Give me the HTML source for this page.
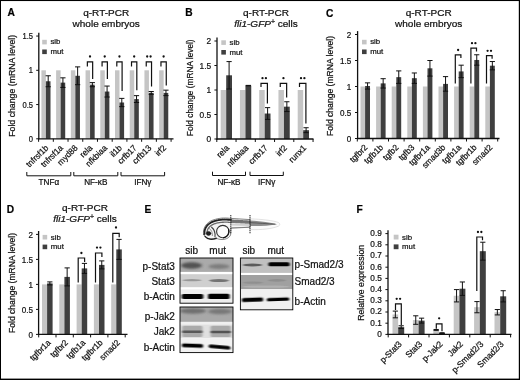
<!DOCTYPE html>
<html lang="en"><head><meta charset="utf-8"><title>Figure</title>
<style>
html,body{margin:0;padding:0;background:#fff;}
body{width:520px;height:380px;overflow:hidden;}
svg{display:block;font-family:"Liberation Sans",sans-serif;}
text{stroke:#111;stroke-width:0.22px;}
</style></head><body>
<svg width="520" height="380" viewBox="0 0 520 380">
<rect x="0" y="0" width="520" height="380" fill="#fff"/>
<text x="7.40" y="16.20" font-size="10.2" text-anchor="start" font-weight="bold" font-style="normal" fill="#000">A</text>
<text x="0" y="0" transform="translate(106.20 15.60) scale(1.065 1)" font-size="9.4" text-anchor="middle" font-weight="normal" font-style="normal" fill="#111">q-RT-PCR</text>
<text x="0" y="0" transform="translate(106.20 27.20) scale(1.065 1)" font-size="9.4" text-anchor="middle" font-weight="normal" font-style="normal" fill="#111">whole embryos</text>
<rect x="41.40" y="70.30" width="4.50" height="68.50" fill="#c5c5c5"/>
<rect x="45.90" y="81.26" width="4.60" height="57.54" fill="#3f3f3f"/>
<line x1="48.20" y1="75.78" x2="48.20" y2="86.74" stroke="#111" stroke-width="1.0"/>
<line x1="45.60" y1="75.78" x2="50.80" y2="75.78" stroke="#111" stroke-width="1.0"/>
<line x1="45.60" y1="86.74" x2="50.80" y2="86.74" stroke="#111" stroke-width="1.0"/>
<rect x="56.12" y="70.30" width="4.50" height="68.50" fill="#c5c5c5"/>
<rect x="60.62" y="82.63" width="4.60" height="56.17" fill="#3f3f3f"/>
<line x1="62.92" y1="77.84" x2="62.92" y2="87.43" stroke="#111" stroke-width="1.0"/>
<line x1="60.32" y1="77.84" x2="65.52" y2="77.84" stroke="#111" stroke-width="1.0"/>
<line x1="60.32" y1="87.43" x2="65.52" y2="87.43" stroke="#111" stroke-width="1.0"/>
<rect x="70.84" y="70.30" width="4.50" height="68.50" fill="#c5c5c5"/>
<rect x="75.34" y="75.78" width="4.60" height="63.02" fill="#3f3f3f"/>
<line x1="77.64" y1="66.88" x2="77.64" y2="84.69" stroke="#111" stroke-width="1.0"/>
<line x1="75.04" y1="66.88" x2="80.24" y2="66.88" stroke="#111" stroke-width="1.0"/>
<line x1="75.04" y1="84.69" x2="80.24" y2="84.69" stroke="#111" stroke-width="1.0"/>
<rect x="85.56" y="70.30" width="4.50" height="68.50" fill="#c5c5c5"/>
<rect x="90.06" y="84.69" width="4.60" height="54.12" fill="#3f3f3f"/>
<line x1="92.36" y1="82.63" x2="92.36" y2="86.74" stroke="#111" stroke-width="1.0"/>
<line x1="89.76" y1="82.63" x2="94.96" y2="82.63" stroke="#111" stroke-width="1.0"/>
<line x1="89.76" y1="86.74" x2="94.96" y2="86.74" stroke="#111" stroke-width="1.0"/>
<rect x="100.28" y="70.30" width="4.50" height="68.50" fill="#c5c5c5"/>
<rect x="104.78" y="91.54" width="4.60" height="47.26" fill="#3f3f3f"/>
<line x1="107.08" y1="86.06" x2="107.08" y2="97.02" stroke="#111" stroke-width="1.0"/>
<line x1="104.48" y1="86.06" x2="109.68" y2="86.06" stroke="#111" stroke-width="1.0"/>
<line x1="104.48" y1="97.02" x2="109.68" y2="97.02" stroke="#111" stroke-width="1.0"/>
<rect x="115.00" y="70.30" width="4.50" height="68.50" fill="#c5c5c5"/>
<rect x="119.50" y="102.50" width="4.60" height="36.30" fill="#3f3f3f"/>
<line x1="121.80" y1="98.39" x2="121.80" y2="106.61" stroke="#111" stroke-width="1.0"/>
<line x1="119.20" y1="98.39" x2="124.40" y2="98.39" stroke="#111" stroke-width="1.0"/>
<line x1="119.20" y1="106.61" x2="124.40" y2="106.61" stroke="#111" stroke-width="1.0"/>
<rect x="129.72" y="70.30" width="4.50" height="68.50" fill="#c5c5c5"/>
<rect x="134.22" y="99.07" width="4.60" height="39.73" fill="#3f3f3f"/>
<line x1="136.52" y1="95.65" x2="136.52" y2="102.50" stroke="#111" stroke-width="1.0"/>
<line x1="133.92" y1="95.65" x2="139.12" y2="95.65" stroke="#111" stroke-width="1.0"/>
<line x1="133.92" y1="102.50" x2="139.12" y2="102.50" stroke="#111" stroke-width="1.0"/>
<rect x="144.44" y="70.30" width="4.50" height="68.50" fill="#c5c5c5"/>
<rect x="148.94" y="92.91" width="4.60" height="45.90" fill="#3f3f3f"/>
<line x1="151.24" y1="91.53" x2="151.24" y2="94.28" stroke="#111" stroke-width="1.0"/>
<line x1="148.64" y1="91.53" x2="153.84" y2="91.53" stroke="#111" stroke-width="1.0"/>
<line x1="148.64" y1="94.28" x2="153.84" y2="94.28" stroke="#111" stroke-width="1.0"/>
<rect x="159.16" y="70.30" width="4.50" height="68.50" fill="#c5c5c5"/>
<rect x="163.66" y="92.91" width="4.60" height="45.90" fill="#3f3f3f"/>
<line x1="165.96" y1="90.17" x2="165.96" y2="95.64" stroke="#111" stroke-width="1.0"/>
<line x1="163.36" y1="90.17" x2="168.56" y2="90.17" stroke="#111" stroke-width="1.0"/>
<line x1="163.36" y1="95.64" x2="168.56" y2="95.64" stroke="#111" stroke-width="1.0"/>
<line x1="38.80" y1="32.65" x2="38.80" y2="139.30" stroke="#111" stroke-width="1.3"/>
<line x1="38.30" y1="138.80" x2="173.50" y2="138.80" stroke="#111" stroke-width="1.3"/>
<line x1="36.20" y1="138.80" x2="38.80" y2="138.80" stroke="#111" stroke-width="1"/>
<text x="0" y="0" transform="translate(33.00 141.90) scale(0.9 1)" font-size="8.4" text-anchor="end" font-weight="normal" font-style="normal" fill="#111">0</text>
<line x1="36.20" y1="104.55" x2="38.80" y2="104.55" stroke="#111" stroke-width="1"/>
<text x="0" y="0" transform="translate(33.00 107.65) scale(0.9 1)" font-size="8.4" text-anchor="end" font-weight="normal" font-style="normal" fill="#111">0.5</text>
<line x1="36.20" y1="70.30" x2="38.80" y2="70.30" stroke="#111" stroke-width="1"/>
<text x="0" y="0" transform="translate(33.00 73.40) scale(0.9 1)" font-size="8.4" text-anchor="end" font-weight="normal" font-style="normal" fill="#111">1</text>
<line x1="36.20" y1="36.05" x2="38.80" y2="36.05" stroke="#111" stroke-width="1"/>
<text x="0" y="0" transform="translate(33.00 39.15) scale(0.9 1)" font-size="8.4" text-anchor="end" font-weight="normal" font-style="normal" fill="#111">1.5</text>
<line x1="38.60" y1="138.80" x2="38.60" y2="141.80" stroke="#111" stroke-width="1"/>
<line x1="53.32" y1="138.80" x2="53.32" y2="141.80" stroke="#111" stroke-width="1"/>
<line x1="68.04" y1="138.80" x2="68.04" y2="141.80" stroke="#111" stroke-width="1"/>
<line x1="82.76" y1="138.80" x2="82.76" y2="141.80" stroke="#111" stroke-width="1"/>
<line x1="97.48" y1="138.80" x2="97.48" y2="141.80" stroke="#111" stroke-width="1"/>
<line x1="112.20" y1="138.80" x2="112.20" y2="141.80" stroke="#111" stroke-width="1"/>
<line x1="126.92" y1="138.80" x2="126.92" y2="141.80" stroke="#111" stroke-width="1"/>
<line x1="141.64" y1="138.80" x2="141.64" y2="141.80" stroke="#111" stroke-width="1"/>
<line x1="156.36" y1="138.80" x2="156.36" y2="141.80" stroke="#111" stroke-width="1"/>
<line x1="171.08" y1="138.80" x2="171.08" y2="141.80" stroke="#111" stroke-width="1"/>
<text x="0" y="0" transform="translate(48.90 148.40) rotate(-45) scale(0.96 1)" font-size="8.6" text-anchor="end" font-weight="normal" font-style="normal" fill="#111">tnfrsf1b</text>
<text x="0" y="0" transform="translate(63.62 148.40) rotate(-45) scale(0.96 1)" font-size="8.6" text-anchor="end" font-weight="normal" font-style="normal" fill="#111">tnfrsf1a</text>
<text x="0" y="0" transform="translate(78.34 148.40) rotate(-45) scale(0.96 1)" font-size="8.6" text-anchor="end" font-weight="normal" font-style="normal" fill="#111">myd88</text>
<text x="0" y="0" transform="translate(93.06 148.40) rotate(-45) scale(0.96 1)" font-size="8.6" text-anchor="end" font-weight="normal" font-style="normal" fill="#111">rela</text>
<text x="0" y="0" transform="translate(107.78 148.40) rotate(-45) scale(0.96 1)" font-size="8.6" text-anchor="end" font-weight="normal" font-style="normal" fill="#111">nfkbiaa</text>
<text x="0" y="0" transform="translate(122.50 148.40) rotate(-45) scale(0.96 1)" font-size="8.6" text-anchor="end" font-weight="normal" font-style="normal" fill="#111">il1b</text>
<text x="0" y="0" transform="translate(137.22 148.40) rotate(-45) scale(0.96 1)" font-size="8.6" text-anchor="end" font-weight="normal" font-style="normal" fill="#111">crfb17</text>
<text x="0" y="0" transform="translate(151.94 148.40) rotate(-45) scale(0.96 1)" font-size="8.6" text-anchor="end" font-weight="normal" font-style="normal" fill="#111">crfb13</text>
<text x="0" y="0" transform="translate(166.66 148.40) rotate(-45) scale(0.96 1)" font-size="8.6" text-anchor="end" font-weight="normal" font-style="normal" fill="#111">irf2</text>
<rect x="42.20" y="39.80" width="4.60" height="4.60" fill="#c5c5c5"/>
<rect x="42.20" y="49.50" width="4.60" height="4.60" fill="#3f3f3f"/>
<text x="50.40" y="44.40" font-size="7.8" text-anchor="start" font-weight="normal" font-style="normal" fill="#111">sib</text>
<text x="50.40" y="54.20" font-size="7.8" text-anchor="start" font-weight="normal" font-style="normal" fill="#111">mut</text>
<text transform="translate(15.30 85.80) rotate(-90)" font-size="8.3" text-anchor="middle" textLength="102" lengthAdjust="spacingAndGlyphs" fill="#111">Fold change (mRNA level)</text>
<polyline points="87.36,66.40 87.36,61.80 92.66,61.80 92.66,79.10" fill="none" stroke="#111" stroke-width="1.2"/>
<circle cx="90.01" cy="56.50" r="1.15" fill="#111"/>
<polyline points="102.08,66.40 102.08,61.80 107.38,61.80 107.38,79.10" fill="none" stroke="#111" stroke-width="1.2"/>
<circle cx="104.73" cy="56.50" r="1.15" fill="#111"/>
<polyline points="116.80,66.40 116.80,61.80 122.10,61.80 122.10,91.10" fill="none" stroke="#111" stroke-width="1.2"/>
<circle cx="119.45" cy="56.50" r="1.15" fill="#111"/>
<polyline points="131.52,66.40 131.52,61.80 136.82,61.80 136.82,90.20" fill="none" stroke="#111" stroke-width="1.2"/>
<circle cx="134.17" cy="56.50" r="1.15" fill="#111"/>
<polyline points="146.24,66.40 146.24,61.80 151.54,61.80 151.54,86.50" fill="none" stroke="#111" stroke-width="1.2"/>
<circle cx="147.19" cy="56.50" r="1.15" fill="#111"/>
<circle cx="150.59" cy="56.50" r="1.15" fill="#111"/>
<polyline points="160.96,66.40 160.96,61.80 166.26,61.80 166.26,85.60" fill="none" stroke="#111" stroke-width="1.2"/>
<circle cx="163.61" cy="56.50" r="1.15" fill="#111"/>
<polyline points="26.80,172.00 26.80,175.80 70.80,175.80 70.80,172.00" fill="none" stroke="#111" stroke-width="1"/>
<text x="48.80" y="184.80" font-size="8.2" text-anchor="middle" font-weight="normal" font-style="normal" fill="#111">TNFα</text>
<polyline points="73.80,172.00 73.80,175.80 117.80,175.80 117.80,172.00" fill="none" stroke="#111" stroke-width="1"/>
<text x="95.80" y="184.80" font-size="8.2" text-anchor="middle" font-weight="normal" font-style="normal" fill="#111">NF-κB</text>
<polyline points="121.00,172.00 121.00,175.80 164.60,175.80 164.60,172.00" fill="none" stroke="#111" stroke-width="1"/>
<text x="142.80" y="184.80" font-size="8.2" text-anchor="middle" font-weight="normal" font-style="normal" fill="#111">IFNγ</text>
<text x="185.30" y="16.20" font-size="10.2" text-anchor="start" font-weight="bold" font-style="normal" fill="#000">B</text>
<text x="0" y="0" transform="translate(266.00 15.60) scale(1.065 1)" font-size="9.4" text-anchor="middle" font-weight="normal" font-style="normal" fill="#111">q-RT-PCR</text>
<text x="0" y="0" transform="translate(266.00 27.20) scale(1.065 1)" font-size="9.4" text-anchor="middle" font-weight="normal" font-style="normal" fill="#111"><tspan font-style="italic">fli1-GFP</tspan><tspan font-size="6.5" dy="-3">+</tspan><tspan dy="3"> cells</tspan></text>
<rect x="220.70" y="90.00" width="5.50" height="49.00" fill="#c5c5c5"/>
<rect x="226.20" y="75.30" width="5.80" height="63.70" fill="#3f3f3f"/>
<line x1="229.10" y1="61.58" x2="229.10" y2="89.02" stroke="#111" stroke-width="1.0"/>
<line x1="226.50" y1="61.58" x2="231.70" y2="61.58" stroke="#111" stroke-width="1.0"/>
<line x1="226.50" y1="89.02" x2="231.70" y2="89.02" stroke="#111" stroke-width="1.0"/>
<rect x="239.95" y="90.00" width="5.50" height="49.00" fill="#c5c5c5"/>
<rect x="245.45" y="85.59" width="5.80" height="53.41" fill="#3f3f3f"/>
<line x1="248.35" y1="85.39" x2="248.35" y2="85.79" stroke="#111" stroke-width="1.0"/>
<line x1="245.75" y1="85.39" x2="250.95" y2="85.39" stroke="#111" stroke-width="1.0"/>
<line x1="245.75" y1="85.79" x2="250.95" y2="85.79" stroke="#111" stroke-width="1.0"/>
<rect x="259.20" y="90.00" width="5.50" height="49.00" fill="#c5c5c5"/>
<rect x="264.70" y="113.52" width="5.80" height="25.48" fill="#3f3f3f"/>
<line x1="267.60" y1="107.64" x2="267.60" y2="119.40" stroke="#111" stroke-width="1.0"/>
<line x1="265.00" y1="107.64" x2="270.20" y2="107.64" stroke="#111" stroke-width="1.0"/>
<line x1="265.00" y1="119.40" x2="270.20" y2="119.40" stroke="#111" stroke-width="1.0"/>
<rect x="278.45" y="90.00" width="5.50" height="49.00" fill="#c5c5c5"/>
<rect x="283.95" y="106.66" width="5.80" height="32.34" fill="#3f3f3f"/>
<line x1="286.85" y1="101.76" x2="286.85" y2="111.56" stroke="#111" stroke-width="1.0"/>
<line x1="284.25" y1="101.76" x2="289.45" y2="101.76" stroke="#111" stroke-width="1.0"/>
<line x1="284.25" y1="111.56" x2="289.45" y2="111.56" stroke="#111" stroke-width="1.0"/>
<rect x="297.70" y="90.00" width="5.50" height="49.00" fill="#c5c5c5"/>
<rect x="303.20" y="130.18" width="5.80" height="8.82" fill="#3f3f3f"/>
<line x1="306.10" y1="127.73" x2="306.10" y2="132.63" stroke="#111" stroke-width="1.0"/>
<line x1="303.50" y1="127.73" x2="308.70" y2="127.73" stroke="#111" stroke-width="1.0"/>
<line x1="303.50" y1="132.63" x2="308.70" y2="132.63" stroke="#111" stroke-width="1.0"/>
<line x1="217.00" y1="37.60" x2="217.00" y2="139.50" stroke="#111" stroke-width="1.3"/>
<line x1="216.50" y1="139.00" x2="313.50" y2="139.00" stroke="#111" stroke-width="1.3"/>
<line x1="214.40" y1="139.00" x2="217.00" y2="139.00" stroke="#111" stroke-width="1"/>
<text x="0" y="0" transform="translate(211.20 142.10) scale(0.95 1)" font-size="8.8" text-anchor="end" font-weight="normal" font-style="normal" fill="#111">0</text>
<line x1="214.40" y1="114.50" x2="217.00" y2="114.50" stroke="#111" stroke-width="1"/>
<text x="0" y="0" transform="translate(211.20 117.60) scale(0.95 1)" font-size="8.8" text-anchor="end" font-weight="normal" font-style="normal" fill="#111">0.5</text>
<line x1="214.40" y1="90.00" x2="217.00" y2="90.00" stroke="#111" stroke-width="1"/>
<text x="0" y="0" transform="translate(211.20 93.10) scale(0.95 1)" font-size="8.8" text-anchor="end" font-weight="normal" font-style="normal" fill="#111">1</text>
<line x1="214.40" y1="65.50" x2="217.00" y2="65.50" stroke="#111" stroke-width="1"/>
<text x="0" y="0" transform="translate(211.20 68.60) scale(0.95 1)" font-size="8.8" text-anchor="end" font-weight="normal" font-style="normal" fill="#111">1.5</text>
<line x1="214.40" y1="41.00" x2="217.00" y2="41.00" stroke="#111" stroke-width="1"/>
<text x="0" y="0" transform="translate(211.20 44.10) scale(0.95 1)" font-size="8.8" text-anchor="end" font-weight="normal" font-style="normal" fill="#111">2</text>
<line x1="216.80" y1="139.00" x2="216.80" y2="142.00" stroke="#111" stroke-width="1"/>
<line x1="236.05" y1="139.00" x2="236.05" y2="142.00" stroke="#111" stroke-width="1"/>
<line x1="255.30" y1="139.00" x2="255.30" y2="142.00" stroke="#111" stroke-width="1"/>
<line x1="274.55" y1="139.00" x2="274.55" y2="142.00" stroke="#111" stroke-width="1"/>
<line x1="293.80" y1="139.00" x2="293.80" y2="142.00" stroke="#111" stroke-width="1"/>
<line x1="313.05" y1="139.00" x2="313.05" y2="142.00" stroke="#111" stroke-width="1"/>
<text x="0" y="0" transform="translate(229.80 148.60) rotate(-45) scale(0.96 1)" font-size="8.6" text-anchor="end" font-weight="normal" font-style="normal" fill="#111">rela</text>
<text x="0" y="0" transform="translate(249.05 148.60) rotate(-45) scale(0.96 1)" font-size="8.6" text-anchor="end" font-weight="normal" font-style="normal" fill="#111">nfkbiaa</text>
<text x="0" y="0" transform="translate(268.30 148.60) rotate(-45) scale(0.96 1)" font-size="8.6" text-anchor="end" font-weight="normal" font-style="normal" fill="#111">crfb17</text>
<text x="0" y="0" transform="translate(287.55 148.60) rotate(-45) scale(0.96 1)" font-size="8.6" text-anchor="end" font-weight="normal" font-style="normal" fill="#111">irf2</text>
<text x="0" y="0" transform="translate(306.80 148.60) rotate(-45) scale(0.96 1)" font-size="8.6" text-anchor="end" font-weight="normal" font-style="normal" fill="#111">runx1</text>
<rect x="221.30" y="40.30" width="4.60" height="4.60" fill="#c5c5c5"/>
<rect x="221.30" y="50.00" width="4.60" height="4.60" fill="#3f3f3f"/>
<text x="229.50" y="44.90" font-size="7.8" text-anchor="start" font-weight="normal" font-style="normal" fill="#111">sib</text>
<text x="229.50" y="54.70" font-size="7.8" text-anchor="start" font-weight="normal" font-style="normal" fill="#111">mut</text>
<text transform="translate(192.80 87.80) rotate(-90)" font-size="8.3" text-anchor="middle" textLength="96.8" lengthAdjust="spacingAndGlyphs" fill="#111">Fold change (mRNA level)</text>
<polyline points="261.00,87.00 261.00,83.30 267.40,83.30 267.40,103.44" fill="none" stroke="#111" stroke-width="1.2"/>
<circle cx="262.50" cy="78.20" r="1.15" fill="#111"/>
<circle cx="265.90" cy="78.20" r="1.15" fill="#111"/>
<polyline points="280.25,87.00 280.25,83.30 286.65,83.30 286.65,97.56" fill="none" stroke="#111" stroke-width="1.2"/>
<circle cx="283.45" cy="78.20" r="1.15" fill="#111"/>
<polyline points="299.50,87.00 299.50,83.30 305.90,83.30 305.90,123.53" fill="none" stroke="#111" stroke-width="1.2"/>
<circle cx="301.00" cy="78.20" r="1.15" fill="#111"/>
<circle cx="304.40" cy="78.20" r="1.15" fill="#111"/>
<polyline points="212.50,171.70 212.50,175.50 245.50,175.50 245.50,171.70" fill="none" stroke="#111" stroke-width="1"/>
<text x="229.00" y="184.50" font-size="8.2" text-anchor="middle" font-weight="normal" font-style="normal" fill="#111">NF-κB</text>
<polyline points="250.00,171.70 250.00,175.50 283.30,175.50 283.30,171.70" fill="none" stroke="#111" stroke-width="1"/>
<text x="266.65" y="184.50" font-size="8.2" text-anchor="middle" font-weight="normal" font-style="normal" fill="#111">IFNγ</text>
<text x="326.10" y="16.50" font-size="10.2" text-anchor="start" font-weight="bold" font-style="normal" fill="#000">C</text>
<text x="0" y="0" transform="translate(428.70 15.60) scale(1.065 1)" font-size="9.4" text-anchor="middle" font-weight="normal" font-style="normal" fill="#111">q-RT-PCR</text>
<text x="0" y="0" transform="translate(428.70 27.20) scale(1.065 1)" font-size="9.4" text-anchor="middle" font-weight="normal" font-style="normal" fill="#111">whole embryos</text>
<rect x="360.50" y="86.50" width="4.60" height="52.00" fill="#c5c5c5"/>
<rect x="365.10" y="85.98" width="4.90" height="52.52" fill="#3f3f3f"/>
<line x1="367.55" y1="82.86" x2="367.55" y2="89.10" stroke="#111" stroke-width="1.0"/>
<line x1="364.95" y1="82.86" x2="370.15" y2="82.86" stroke="#111" stroke-width="1.0"/>
<line x1="364.95" y1="89.10" x2="370.15" y2="89.10" stroke="#111" stroke-width="1.0"/>
<rect x="376.10" y="86.50" width="4.60" height="52.00" fill="#c5c5c5"/>
<rect x="380.70" y="83.38" width="4.90" height="55.12" fill="#3f3f3f"/>
<line x1="383.15" y1="78.70" x2="383.15" y2="88.06" stroke="#111" stroke-width="1.0"/>
<line x1="380.55" y1="78.70" x2="385.75" y2="78.70" stroke="#111" stroke-width="1.0"/>
<line x1="380.55" y1="88.06" x2="385.75" y2="88.06" stroke="#111" stroke-width="1.0"/>
<rect x="391.70" y="86.50" width="4.60" height="52.00" fill="#c5c5c5"/>
<rect x="396.30" y="77.14" width="4.90" height="61.36" fill="#3f3f3f"/>
<line x1="398.75" y1="70.90" x2="398.75" y2="83.38" stroke="#111" stroke-width="1.0"/>
<line x1="396.15" y1="70.90" x2="401.35" y2="70.90" stroke="#111" stroke-width="1.0"/>
<line x1="396.15" y1="83.38" x2="401.35" y2="83.38" stroke="#111" stroke-width="1.0"/>
<rect x="407.30" y="86.50" width="4.60" height="52.00" fill="#c5c5c5"/>
<rect x="411.90" y="78.18" width="4.90" height="60.32" fill="#3f3f3f"/>
<line x1="414.35" y1="72.98" x2="414.35" y2="83.38" stroke="#111" stroke-width="1.0"/>
<line x1="411.75" y1="72.98" x2="416.95" y2="72.98" stroke="#111" stroke-width="1.0"/>
<line x1="411.75" y1="83.38" x2="416.95" y2="83.38" stroke="#111" stroke-width="1.0"/>
<rect x="422.90" y="86.50" width="4.60" height="52.00" fill="#c5c5c5"/>
<rect x="427.50" y="68.30" width="4.90" height="70.20" fill="#3f3f3f"/>
<line x1="429.95" y1="60.50" x2="429.95" y2="76.10" stroke="#111" stroke-width="1.0"/>
<line x1="427.35" y1="60.50" x2="432.55" y2="60.50" stroke="#111" stroke-width="1.0"/>
<line x1="427.35" y1="76.10" x2="432.55" y2="76.10" stroke="#111" stroke-width="1.0"/>
<rect x="438.50" y="86.50" width="4.60" height="52.00" fill="#c5c5c5"/>
<rect x="443.10" y="83.90" width="4.90" height="54.60" fill="#3f3f3f"/>
<line x1="445.55" y1="76.62" x2="445.55" y2="91.18" stroke="#111" stroke-width="1.0"/>
<line x1="442.95" y1="76.62" x2="448.15" y2="76.62" stroke="#111" stroke-width="1.0"/>
<line x1="442.95" y1="91.18" x2="448.15" y2="91.18" stroke="#111" stroke-width="1.0"/>
<rect x="454.10" y="86.50" width="4.60" height="52.00" fill="#c5c5c5"/>
<rect x="458.70" y="71.42" width="4.90" height="67.08" fill="#3f3f3f"/>
<line x1="461.15" y1="65.18" x2="461.15" y2="77.66" stroke="#111" stroke-width="1.0"/>
<line x1="458.55" y1="65.18" x2="463.75" y2="65.18" stroke="#111" stroke-width="1.0"/>
<line x1="458.55" y1="77.66" x2="463.75" y2="77.66" stroke="#111" stroke-width="1.0"/>
<rect x="469.70" y="86.50" width="4.60" height="52.00" fill="#c5c5c5"/>
<rect x="474.30" y="59.98" width="4.90" height="78.52" fill="#3f3f3f"/>
<line x1="476.75" y1="54.78" x2="476.75" y2="65.18" stroke="#111" stroke-width="1.0"/>
<line x1="474.15" y1="54.78" x2="479.35" y2="54.78" stroke="#111" stroke-width="1.0"/>
<line x1="474.15" y1="65.18" x2="479.35" y2="65.18" stroke="#111" stroke-width="1.0"/>
<rect x="485.30" y="86.50" width="4.60" height="52.00" fill="#c5c5c5"/>
<rect x="489.90" y="65.70" width="4.90" height="72.80" fill="#3f3f3f"/>
<line x1="492.35" y1="61.54" x2="492.35" y2="69.86" stroke="#111" stroke-width="1.0"/>
<line x1="489.75" y1="61.54" x2="494.95" y2="61.54" stroke="#111" stroke-width="1.0"/>
<line x1="489.75" y1="69.86" x2="494.95" y2="69.86" stroke="#111" stroke-width="1.0"/>
<line x1="357.60" y1="31.10" x2="357.60" y2="139.00" stroke="#111" stroke-width="1.3"/>
<line x1="357.10" y1="138.50" x2="499.50" y2="138.50" stroke="#111" stroke-width="1.3"/>
<line x1="355.00" y1="138.50" x2="357.60" y2="138.50" stroke="#111" stroke-width="1"/>
<text x="0" y="0" transform="translate(351.30 141.60) scale(0.92 1)" font-size="8.8" text-anchor="end" font-weight="normal" font-style="normal" fill="#111">0</text>
<line x1="355.00" y1="112.50" x2="357.60" y2="112.50" stroke="#111" stroke-width="1"/>
<text x="0" y="0" transform="translate(351.30 115.60) scale(0.92 1)" font-size="8.8" text-anchor="end" font-weight="normal" font-style="normal" fill="#111">0.5</text>
<line x1="355.00" y1="86.50" x2="357.60" y2="86.50" stroke="#111" stroke-width="1"/>
<text x="0" y="0" transform="translate(351.30 89.60) scale(0.92 1)" font-size="8.8" text-anchor="end" font-weight="normal" font-style="normal" fill="#111">1</text>
<line x1="355.00" y1="60.50" x2="357.60" y2="60.50" stroke="#111" stroke-width="1"/>
<text x="0" y="0" transform="translate(351.30 63.60) scale(0.92 1)" font-size="8.8" text-anchor="end" font-weight="normal" font-style="normal" fill="#111">1.5</text>
<line x1="355.00" y1="34.50" x2="357.60" y2="34.50" stroke="#111" stroke-width="1"/>
<text x="0" y="0" transform="translate(351.30 37.60) scale(0.92 1)" font-size="8.8" text-anchor="end" font-weight="normal" font-style="normal" fill="#111">2</text>
<line x1="357.30" y1="138.50" x2="357.30" y2="141.50" stroke="#111" stroke-width="1"/>
<line x1="372.90" y1="138.50" x2="372.90" y2="141.50" stroke="#111" stroke-width="1"/>
<line x1="388.50" y1="138.50" x2="388.50" y2="141.50" stroke="#111" stroke-width="1"/>
<line x1="404.10" y1="138.50" x2="404.10" y2="141.50" stroke="#111" stroke-width="1"/>
<line x1="419.70" y1="138.50" x2="419.70" y2="141.50" stroke="#111" stroke-width="1"/>
<line x1="435.30" y1="138.50" x2="435.30" y2="141.50" stroke="#111" stroke-width="1"/>
<line x1="450.90" y1="138.50" x2="450.90" y2="141.50" stroke="#111" stroke-width="1"/>
<line x1="466.50" y1="138.50" x2="466.50" y2="141.50" stroke="#111" stroke-width="1"/>
<line x1="482.10" y1="138.50" x2="482.10" y2="141.50" stroke="#111" stroke-width="1"/>
<line x1="497.70" y1="138.50" x2="497.70" y2="141.50" stroke="#111" stroke-width="1"/>
<text x="0" y="0" transform="translate(368.10 148.10) rotate(-45) scale(0.96 1)" font-size="8.6" text-anchor="end" font-weight="normal" font-style="normal" fill="#111">tgfbr2</text>
<text x="0" y="0" transform="translate(383.70 148.10) rotate(-45) scale(0.96 1)" font-size="8.6" text-anchor="end" font-weight="normal" font-style="normal" fill="#111">tgfb1b</text>
<text x="0" y="0" transform="translate(399.30 148.10) rotate(-45) scale(0.96 1)" font-size="8.6" text-anchor="end" font-weight="normal" font-style="normal" fill="#111">tgfb2</text>
<text x="0" y="0" transform="translate(414.90 148.10) rotate(-45) scale(0.96 1)" font-size="8.6" text-anchor="end" font-weight="normal" font-style="normal" fill="#111">tgfb3</text>
<text x="0" y="0" transform="translate(430.50 148.10) rotate(-45) scale(0.96 1)" font-size="8.6" text-anchor="end" font-weight="normal" font-style="normal" fill="#111">tgfbr1a</text>
<text x="0" y="0" transform="translate(446.10 148.10) rotate(-45) scale(0.96 1)" font-size="8.6" text-anchor="end" font-weight="normal" font-style="normal" fill="#111">smad3b</text>
<text x="0" y="0" transform="translate(461.70 148.10) rotate(-45) scale(0.96 1)" font-size="8.6" text-anchor="end" font-weight="normal" font-style="normal" fill="#111">tgfb1a</text>
<text x="0" y="0" transform="translate(477.30 148.10) rotate(-45) scale(0.96 1)" font-size="8.6" text-anchor="end" font-weight="normal" font-style="normal" fill="#111">tgfbr1b</text>
<text x="0" y="0" transform="translate(492.90 148.10) rotate(-45) scale(0.96 1)" font-size="8.6" text-anchor="end" font-weight="normal" font-style="normal" fill="#111">smad2</text>
<rect x="362.00" y="39.80" width="4.60" height="4.60" fill="#c5c5c5"/>
<rect x="362.00" y="49.50" width="4.60" height="4.60" fill="#3f3f3f"/>
<text x="370.20" y="44.40" font-size="7.8" text-anchor="start" font-weight="normal" font-style="normal" fill="#111">sib</text>
<text x="370.20" y="54.20" font-size="7.8" text-anchor="start" font-weight="normal" font-style="normal" fill="#111">mut</text>
<text transform="translate(333.20 86.00) rotate(-90)" font-size="8.3" text-anchor="middle" textLength="100" lengthAdjust="spacingAndGlyphs" fill="#111">Fold change (mRNA level)</text>
<polyline points="455.30,83.50 455.30,54.90 460.90,54.90 460.90,58.10" fill="none" stroke="#111" stroke-width="1.2"/>
<circle cx="458.10" cy="50.00" r="1.15" fill="#111"/>
<polyline points="470.90,83.50 470.90,48.20 476.50,48.20 476.50,51.40" fill="none" stroke="#111" stroke-width="1.2"/>
<circle cx="472.00" cy="43.20" r="1.15" fill="#111"/>
<circle cx="475.40" cy="43.20" r="1.15" fill="#111"/>
<polyline points="486.50,83.50 486.50,55.60 492.10,55.60 492.10,58.80" fill="none" stroke="#111" stroke-width="1.2"/>
<circle cx="487.60" cy="50.80" r="1.15" fill="#111"/>
<circle cx="491.00" cy="50.80" r="1.15" fill="#111"/>
<text x="6.80" y="213.20" font-size="10.2" text-anchor="start" font-weight="bold" font-style="normal" fill="#000">D</text>
<text x="0" y="0" transform="translate(85.00 210.70) scale(1.065 1)" font-size="9.4" text-anchor="middle" font-weight="normal" font-style="normal" fill="#111">q-RT-PCR</text>
<text x="0" y="0" transform="translate(85.00 222.30) scale(1.065 1)" font-size="9.4" text-anchor="middle" font-weight="normal" font-style="normal" fill="#111"><tspan font-style="italic">fli1-GFP</tspan><tspan font-size="6.5" dy="-3">+</tspan><tspan dy="3"> cells</tspan></text>
<rect x="42.00" y="284.40" width="5.10" height="50.00" fill="#c5c5c5"/>
<rect x="47.10" y="283.40" width="5.50" height="51.00" fill="#3f3f3f"/>
<line x1="49.85" y1="281.90" x2="49.85" y2="284.90" stroke="#111" stroke-width="1.0"/>
<line x1="47.25" y1="281.90" x2="52.45" y2="281.90" stroke="#111" stroke-width="1.0"/>
<line x1="47.25" y1="284.90" x2="52.45" y2="284.90" stroke="#111" stroke-width="1.0"/>
<rect x="59.30" y="284.40" width="5.10" height="50.00" fill="#c5c5c5"/>
<rect x="64.40" y="276.90" width="5.50" height="57.50" fill="#3f3f3f"/>
<line x1="67.15" y1="267.90" x2="67.15" y2="285.90" stroke="#111" stroke-width="1.0"/>
<line x1="64.55" y1="267.90" x2="69.75" y2="267.90" stroke="#111" stroke-width="1.0"/>
<line x1="64.55" y1="285.90" x2="69.75" y2="285.90" stroke="#111" stroke-width="1.0"/>
<rect x="76.60" y="284.40" width="5.10" height="50.00" fill="#c5c5c5"/>
<rect x="81.70" y="268.40" width="5.50" height="66.00" fill="#3f3f3f"/>
<line x1="84.45" y1="263.40" x2="84.45" y2="273.40" stroke="#111" stroke-width="1.0"/>
<line x1="81.85" y1="263.40" x2="87.05" y2="263.40" stroke="#111" stroke-width="1.0"/>
<line x1="81.85" y1="273.40" x2="87.05" y2="273.40" stroke="#111" stroke-width="1.0"/>
<rect x="93.90" y="284.40" width="5.10" height="50.00" fill="#c5c5c5"/>
<rect x="99.00" y="264.90" width="5.50" height="69.50" fill="#3f3f3f"/>
<line x1="101.75" y1="260.90" x2="101.75" y2="268.90" stroke="#111" stroke-width="1.0"/>
<line x1="99.15" y1="260.90" x2="104.35" y2="260.90" stroke="#111" stroke-width="1.0"/>
<line x1="99.15" y1="268.90" x2="104.35" y2="268.90" stroke="#111" stroke-width="1.0"/>
<rect x="111.20" y="284.40" width="5.10" height="50.00" fill="#c5c5c5"/>
<rect x="116.30" y="249.40" width="5.50" height="85.00" fill="#3f3f3f"/>
<line x1="119.05" y1="239.40" x2="119.05" y2="259.40" stroke="#111" stroke-width="1.0"/>
<line x1="116.45" y1="239.40" x2="121.65" y2="239.40" stroke="#111" stroke-width="1.0"/>
<line x1="116.45" y1="259.40" x2="121.65" y2="259.40" stroke="#111" stroke-width="1.0"/>
<line x1="38.60" y1="231.00" x2="38.60" y2="334.90" stroke="#111" stroke-width="1.3"/>
<line x1="38.10" y1="334.40" x2="127.50" y2="334.40" stroke="#111" stroke-width="1.3"/>
<line x1="36.00" y1="334.40" x2="38.60" y2="334.40" stroke="#111" stroke-width="1"/>
<text x="0" y="0" transform="translate(33.00 337.50) scale(0.92 1)" font-size="8.8" text-anchor="end" font-weight="normal" font-style="normal" fill="#111">0</text>
<line x1="36.00" y1="309.40" x2="38.60" y2="309.40" stroke="#111" stroke-width="1"/>
<text x="0" y="0" transform="translate(33.00 312.50) scale(0.92 1)" font-size="8.8" text-anchor="end" font-weight="normal" font-style="normal" fill="#111">0.5</text>
<line x1="36.00" y1="284.40" x2="38.60" y2="284.40" stroke="#111" stroke-width="1"/>
<text x="0" y="0" transform="translate(33.00 287.50) scale(0.92 1)" font-size="8.8" text-anchor="end" font-weight="normal" font-style="normal" fill="#111">1</text>
<line x1="36.00" y1="259.40" x2="38.60" y2="259.40" stroke="#111" stroke-width="1"/>
<text x="0" y="0" transform="translate(33.00 262.50) scale(0.92 1)" font-size="8.8" text-anchor="end" font-weight="normal" font-style="normal" fill="#111">1.5</text>
<line x1="36.00" y1="234.40" x2="38.60" y2="234.40" stroke="#111" stroke-width="1"/>
<text x="0" y="0" transform="translate(33.00 237.50) scale(0.92 1)" font-size="8.8" text-anchor="end" font-weight="normal" font-style="normal" fill="#111">2</text>
<line x1="38.70" y1="334.40" x2="38.70" y2="337.40" stroke="#111" stroke-width="1"/>
<line x1="56.00" y1="334.40" x2="56.00" y2="337.40" stroke="#111" stroke-width="1"/>
<line x1="73.30" y1="334.40" x2="73.30" y2="337.40" stroke="#111" stroke-width="1"/>
<line x1="90.60" y1="334.40" x2="90.60" y2="337.40" stroke="#111" stroke-width="1"/>
<line x1="107.90" y1="334.40" x2="107.90" y2="337.40" stroke="#111" stroke-width="1"/>
<line x1="125.20" y1="334.40" x2="125.20" y2="337.40" stroke="#111" stroke-width="1"/>
<text x="0" y="0" transform="translate(51.30 343.20) rotate(-45) scale(0.96 1)" font-size="8.6" text-anchor="end" font-weight="normal" font-style="normal" fill="#111">tgfbr1a</text>
<text x="0" y="0" transform="translate(68.60 343.20) rotate(-45) scale(0.96 1)" font-size="8.6" text-anchor="end" font-weight="normal" font-style="normal" fill="#111">tgfbr2</text>
<text x="0" y="0" transform="translate(85.90 343.20) rotate(-45) scale(0.96 1)" font-size="8.6" text-anchor="end" font-weight="normal" font-style="normal" fill="#111">tgfb1a</text>
<text x="0" y="0" transform="translate(103.20 343.20) rotate(-45) scale(0.96 1)" font-size="8.6" text-anchor="end" font-weight="normal" font-style="normal" fill="#111">tgfbr1b</text>
<text x="0" y="0" transform="translate(120.50 343.20) rotate(-45) scale(0.96 1)" font-size="8.6" text-anchor="end" font-weight="normal" font-style="normal" fill="#111">smad2</text>
<rect x="42.60" y="234.90" width="4.60" height="4.60" fill="#c5c5c5"/>
<rect x="42.60" y="244.60" width="4.60" height="4.60" fill="#3f3f3f"/>
<text x="50.80" y="239.50" font-size="7.8" text-anchor="start" font-weight="normal" font-style="normal" fill="#111">sib</text>
<text x="50.80" y="249.30" font-size="7.8" text-anchor="start" font-weight="normal" font-style="normal" fill="#111">mut</text>
<text transform="translate(14.60 283.00) rotate(-90)" font-size="8.3" text-anchor="middle" textLength="100" lengthAdjust="spacingAndGlyphs" fill="#111">Fold change (mRNA level)</text>
<polyline points="78.20,282.50 78.20,258.00 84.60,258.00 84.60,262.00" fill="none" stroke="#111" stroke-width="1.2"/>
<circle cx="81.40" cy="253.00" r="1.15" fill="#111"/>
<polyline points="95.50,282.50 95.50,253.00 101.90,253.00 101.90,257.00" fill="none" stroke="#111" stroke-width="1.2"/>
<circle cx="97.00" cy="247.60" r="1.15" fill="#111"/>
<circle cx="100.40" cy="247.60" r="1.15" fill="#111"/>
<polyline points="112.80,282.50 112.80,233.30 119.20,233.30 119.20,237.30" fill="none" stroke="#111" stroke-width="1.2"/>
<circle cx="116.00" cy="227.50" r="1.15" fill="#111"/>
<text x="356.60" y="212.80" font-size="10.2" text-anchor="start" font-weight="bold" font-style="normal" fill="#000">F</text>
<rect x="392.50" y="314.46" width="5.70" height="19.94" fill="#c5c5c5"/>
<rect x="398.20" y="327.12" width="6.00" height="7.28" fill="#3f3f3f"/>
<line x1="395.35" y1="311.10" x2="395.35" y2="317.82" stroke="#111" stroke-width="1.0"/>
<line x1="392.75" y1="311.10" x2="397.95" y2="311.10" stroke="#111" stroke-width="1.0"/>
<line x1="392.75" y1="317.82" x2="397.95" y2="317.82" stroke="#111" stroke-width="1.0"/>
<line x1="401.20" y1="325.78" x2="401.20" y2="328.46" stroke="#111" stroke-width="1.0"/>
<line x1="398.60" y1="325.78" x2="403.80" y2="325.78" stroke="#111" stroke-width="1.0"/>
<line x1="398.60" y1="328.46" x2="403.80" y2="328.46" stroke="#111" stroke-width="1.0"/>
<rect x="412.90" y="320.06" width="5.70" height="14.34" fill="#c5c5c5"/>
<rect x="418.60" y="320.62" width="6.00" height="13.78" fill="#3f3f3f"/>
<line x1="415.75" y1="315.81" x2="415.75" y2="324.32" stroke="#111" stroke-width="1.0"/>
<line x1="413.15" y1="315.81" x2="418.35" y2="315.81" stroke="#111" stroke-width="1.0"/>
<line x1="413.15" y1="324.32" x2="418.35" y2="324.32" stroke="#111" stroke-width="1.0"/>
<line x1="421.60" y1="318.16" x2="421.60" y2="323.09" stroke="#111" stroke-width="1.0"/>
<line x1="419.00" y1="318.16" x2="424.20" y2="318.16" stroke="#111" stroke-width="1.0"/>
<line x1="419.00" y1="323.09" x2="424.20" y2="323.09" stroke="#111" stroke-width="1.0"/>
<rect x="433.30" y="329.92" width="5.70" height="4.48" fill="#c5c5c5"/>
<rect x="439.00" y="333.06" width="6.00" height="1.34" fill="#3f3f3f"/>
<line x1="436.15" y1="329.47" x2="436.15" y2="330.37" stroke="#111" stroke-width="1.0"/>
<line x1="433.55" y1="329.47" x2="438.75" y2="329.47" stroke="#111" stroke-width="1.0"/>
<line x1="433.55" y1="330.37" x2="438.75" y2="330.37" stroke="#111" stroke-width="1.0"/>
<line x1="442.00" y1="332.72" x2="442.00" y2="333.39" stroke="#111" stroke-width="1.0"/>
<line x1="439.40" y1="332.72" x2="444.60" y2="332.72" stroke="#111" stroke-width="1.0"/>
<line x1="439.40" y1="333.39" x2="444.60" y2="333.39" stroke="#111" stroke-width="1.0"/>
<rect x="453.70" y="295.76" width="5.70" height="38.64" fill="#c5c5c5"/>
<rect x="459.40" y="288.70" width="6.00" height="45.70" fill="#3f3f3f"/>
<line x1="456.55" y1="289.60" x2="456.55" y2="301.92" stroke="#111" stroke-width="1.0"/>
<line x1="453.95" y1="289.60" x2="459.15" y2="289.60" stroke="#111" stroke-width="1.0"/>
<line x1="453.95" y1="301.92" x2="459.15" y2="301.92" stroke="#111" stroke-width="1.0"/>
<line x1="462.40" y1="281.98" x2="462.40" y2="295.42" stroke="#111" stroke-width="1.0"/>
<line x1="459.80" y1="281.98" x2="465.00" y2="281.98" stroke="#111" stroke-width="1.0"/>
<line x1="459.80" y1="295.42" x2="465.00" y2="295.42" stroke="#111" stroke-width="1.0"/>
<rect x="474.10" y="307.18" width="5.70" height="27.22" fill="#c5c5c5"/>
<rect x="479.80" y="251.18" width="6.00" height="83.22" fill="#3f3f3f"/>
<line x1="476.95" y1="301.58" x2="476.95" y2="312.78" stroke="#111" stroke-width="1.0"/>
<line x1="474.35" y1="301.58" x2="479.55" y2="301.58" stroke="#111" stroke-width="1.0"/>
<line x1="474.35" y1="312.78" x2="479.55" y2="312.78" stroke="#111" stroke-width="1.0"/>
<line x1="482.80" y1="242.22" x2="482.80" y2="260.14" stroke="#111" stroke-width="1.0"/>
<line x1="480.20" y1="242.22" x2="485.40" y2="242.22" stroke="#111" stroke-width="1.0"/>
<line x1="480.20" y1="260.14" x2="485.40" y2="260.14" stroke="#111" stroke-width="1.0"/>
<rect x="494.50" y="312.22" width="5.70" height="22.18" fill="#c5c5c5"/>
<rect x="500.20" y="296.32" width="6.00" height="38.08" fill="#3f3f3f"/>
<line x1="497.35" y1="309.54" x2="497.35" y2="314.91" stroke="#111" stroke-width="1.0"/>
<line x1="494.75" y1="309.54" x2="499.95" y2="309.54" stroke="#111" stroke-width="1.0"/>
<line x1="494.75" y1="314.91" x2="499.95" y2="314.91" stroke="#111" stroke-width="1.0"/>
<line x1="503.20" y1="290.72" x2="503.20" y2="301.92" stroke="#111" stroke-width="1.0"/>
<line x1="500.60" y1="290.72" x2="505.80" y2="290.72" stroke="#111" stroke-width="1.0"/>
<line x1="500.60" y1="301.92" x2="505.80" y2="301.92" stroke="#111" stroke-width="1.0"/>
<line x1="388.00" y1="230.20" x2="388.00" y2="334.90" stroke="#111" stroke-width="1.3"/>
<line x1="387.50" y1="334.40" x2="511.50" y2="334.40" stroke="#111" stroke-width="1.3"/>
<line x1="385.40" y1="334.40" x2="388.00" y2="334.40" stroke="#111" stroke-width="1"/>
<text x="0" y="0" transform="translate(381.80 336.80) scale(0.95 1)" font-size="8.7" text-anchor="end" font-weight="normal" font-style="normal" fill="#111">0</text>
<line x1="385.40" y1="323.20" x2="388.00" y2="323.20" stroke="#111" stroke-width="1"/>
<text x="0" y="0" transform="translate(381.80 325.60) scale(0.95 1)" font-size="8.7" text-anchor="end" font-weight="normal" font-style="normal" fill="#111">0.1</text>
<line x1="385.40" y1="312.00" x2="388.00" y2="312.00" stroke="#111" stroke-width="1"/>
<text x="0" y="0" transform="translate(381.80 314.40) scale(0.95 1)" font-size="8.7" text-anchor="end" font-weight="normal" font-style="normal" fill="#111">0.2</text>
<line x1="385.40" y1="300.80" x2="388.00" y2="300.80" stroke="#111" stroke-width="1"/>
<text x="0" y="0" transform="translate(381.80 303.20) scale(0.95 1)" font-size="8.7" text-anchor="end" font-weight="normal" font-style="normal" fill="#111">0.3</text>
<line x1="385.40" y1="289.60" x2="388.00" y2="289.60" stroke="#111" stroke-width="1"/>
<text x="0" y="0" transform="translate(381.80 292.00) scale(0.95 1)" font-size="8.7" text-anchor="end" font-weight="normal" font-style="normal" fill="#111">0.4</text>
<line x1="385.40" y1="278.40" x2="388.00" y2="278.40" stroke="#111" stroke-width="1"/>
<text x="0" y="0" transform="translate(381.80 280.80) scale(0.95 1)" font-size="8.7" text-anchor="end" font-weight="normal" font-style="normal" fill="#111">0.5</text>
<line x1="385.40" y1="267.20" x2="388.00" y2="267.20" stroke="#111" stroke-width="1"/>
<text x="0" y="0" transform="translate(381.80 269.60) scale(0.95 1)" font-size="8.7" text-anchor="end" font-weight="normal" font-style="normal" fill="#111">0.6</text>
<line x1="385.40" y1="256.00" x2="388.00" y2="256.00" stroke="#111" stroke-width="1"/>
<text x="0" y="0" transform="translate(381.80 258.40) scale(0.95 1)" font-size="8.7" text-anchor="end" font-weight="normal" font-style="normal" fill="#111">0.7</text>
<line x1="385.40" y1="244.80" x2="388.00" y2="244.80" stroke="#111" stroke-width="1"/>
<text x="0" y="0" transform="translate(381.80 247.20) scale(0.95 1)" font-size="8.7" text-anchor="end" font-weight="normal" font-style="normal" fill="#111">0.8</text>
<line x1="385.40" y1="233.60" x2="388.00" y2="233.60" stroke="#111" stroke-width="1"/>
<text x="0" y="0" transform="translate(381.80 236.00) scale(0.95 1)" font-size="8.7" text-anchor="end" font-weight="normal" font-style="normal" fill="#111">0.9</text>
<line x1="388.20" y1="334.40" x2="388.20" y2="337.40" stroke="#111" stroke-width="1"/>
<line x1="408.60" y1="334.40" x2="408.60" y2="337.40" stroke="#111" stroke-width="1"/>
<line x1="429.00" y1="334.40" x2="429.00" y2="337.40" stroke="#111" stroke-width="1"/>
<line x1="449.40" y1="334.40" x2="449.40" y2="337.40" stroke="#111" stroke-width="1"/>
<line x1="469.80" y1="334.40" x2="469.80" y2="337.40" stroke="#111" stroke-width="1"/>
<line x1="490.20" y1="334.40" x2="490.20" y2="337.40" stroke="#111" stroke-width="1"/>
<line x1="510.60" y1="334.40" x2="510.60" y2="337.40" stroke="#111" stroke-width="1"/>
<text x="0" y="0" transform="translate(402.40 344.60) rotate(-45) scale(0.96 1)" font-size="8.7" text-anchor="end" font-weight="normal" font-style="normal" fill="#111">p-Stat3</text>
<text x="0" y="0" transform="translate(422.80 344.60) rotate(-45) scale(0.96 1)" font-size="8.7" text-anchor="end" font-weight="normal" font-style="normal" fill="#111">Stat3</text>
<text x="0" y="0" transform="translate(443.20 344.60) rotate(-45) scale(0.96 1)" font-size="8.7" text-anchor="end" font-weight="normal" font-style="normal" fill="#111">p-Jak2</text>
<text x="0" y="0" transform="translate(463.60 344.60) rotate(-45) scale(0.96 1)" font-size="8.7" text-anchor="end" font-weight="normal" font-style="normal" fill="#111">Jak2</text>
<text x="0" y="0" transform="translate(484.00 344.60) rotate(-45) scale(0.96 1)" font-size="8.7" text-anchor="end" font-weight="normal" font-style="normal" fill="#111">p-Smad2/3</text>
<text x="0" y="0" transform="translate(504.40 344.60) rotate(-45) scale(0.96 1)" font-size="8.7" text-anchor="end" font-weight="normal" font-style="normal" fill="#111">Smad2/3</text>
<rect x="393.70" y="234.70" width="4.80" height="4.80" fill="#c5c5c5"/>
<rect x="393.70" y="244.40" width="4.80" height="4.80" fill="#3f3f3f"/>
<text x="402.10" y="239.50" font-size="7.8" text-anchor="start" font-weight="normal" font-style="normal" fill="#111">sib</text>
<text x="402.10" y="249.30" font-size="7.8" text-anchor="start" font-weight="normal" font-style="normal" fill="#111">mut</text>
<text transform="translate(364.00 282.80) rotate(-90)" font-size="8.6" text-anchor="middle" textLength="76" lengthAdjust="spacingAndGlyphs" fill="#111">Relative expression</text>
<polyline points="395.50,310.00 395.50,303.80 401.30,303.80 401.30,325.00" fill="none" stroke="#111" stroke-width="1.2"/>
<circle cx="396.70" cy="298.80" r="1.15" fill="#111"/>
<circle cx="400.10" cy="298.80" r="1.15" fill="#111"/>
<polyline points="436.30,328.80 436.30,323.80 442.00,323.80 442.00,331.30" fill="none" stroke="#111" stroke-width="1.2"/>
<circle cx="439.15" cy="318.30" r="1.15" fill="#111"/>
<polyline points="476.80,291.00 476.80,237.00 482.50,237.00 482.50,240.20" fill="none" stroke="#111" stroke-width="1.2"/>
<circle cx="477.95" cy="232.00" r="1.15" fill="#111"/>
<circle cx="481.35" cy="232.00" r="1.15" fill="#111"/>
<defs>
<filter id="b1" x="-20%" y="-100%" width="140%" height="300%"><feGaussianBlur stdDeviation="0.9 0.7"/></filter>
<filter id="b2" x="-20%" y="-100%" width="140%" height="300%"><feGaussianBlur stdDeviation="1.6 1.2"/></filter>
<filter id="b3" x="-20%" y="-100%" width="140%" height="300%"><feGaussianBlur stdDeviation="0.8 0.7"/></filter>
<clipPath id="c1"><rect x="180" y="258" width="53" height="45.2"/></clipPath>
<clipPath id="c2"><rect x="180" y="307" width="53" height="45.6"/></clipPath>
<clipPath id="c3"><rect x="240.4" y="258" width="52.4" height="51.8"/></clipPath>
</defs>
<text x="144.4" y="213.2" font-size="9.2" text-anchor="start" fill="#111"><tspan font-weight="bold" font-size="10.2" fill="#000">E</tspan></text>
<text x="185.2" y="253.8" font-size="10" text-anchor="start" fill="#111">sib</text>
<text x="209.3" y="253.8" font-size="10" text-anchor="start" fill="#111">mut</text>
<text x="242.4" y="253.8" font-size="10" text-anchor="start" fill="#111">sib</text>
<text x="267.4" y="253.8" font-size="10" text-anchor="start" fill="#111">mut</text>
<text x="174.8" y="270.2" font-size="10" text-anchor="end" fill="#111">p-Stat3</text>
<text x="174.8" y="285.3" font-size="10" text-anchor="end" fill="#111">Stat3</text>
<text x="174.8" y="300.0" font-size="10" text-anchor="end" fill="#111">b-Actin</text>
<text x="174.8" y="320.0" font-size="10" text-anchor="end" fill="#111">p-Jak2</text>
<text x="174.8" y="335.2" font-size="10" text-anchor="end" fill="#111">Jak2</text>
<text x="174.8" y="350.5" font-size="10" text-anchor="end" fill="#111">b-Actin</text>
<text x="294.6" y="267.8" font-size="10" text-anchor="start" fill="#111">p-Smad2/3</text>
<text x="294.6" y="285.4" font-size="10" text-anchor="start" fill="#111">Smad2/3</text>
<text x="294.6" y="304.6" font-size="10" text-anchor="start" fill="#111">b-Actin</text>
<g clip-path="url(#c1)">
<rect x="180" y="258" width="53" height="45.2" fill="#fff"/>
<rect x="180" y="258" width="53" height="13.9" fill="#aaaaaa"/>
<rect x="180" y="274.2" width="53" height="13.0" fill="#cfcfcf"/>
<rect x="180" y="289.4" width="53" height="13.8" fill="#ededed"/>
<ellipse cx="191.5" cy="265.5" rx="10.5" ry="3.2" fill="#4a4a4a" opacity="0.9" filter="url(#b2)"/>
<ellipse cx="219" cy="266.5" rx="10.5" ry="2.6" fill="#6e6e6e" opacity="0.75" filter="url(#b2)"/>
<ellipse cx="192" cy="280.2" rx="9.5" ry="1.1" fill="#8a8a8a" opacity="0.8" filter="url(#b1)"/>
<ellipse cx="219" cy="280.6" rx="10" ry="1.5" fill="#6a6a6a" opacity="0.9" filter="url(#b1)"/>
<rect x="181.70" y="293.90" width="21.60" height="5.00" rx="1.60" fill="#000" opacity="1" filter="url(#b3)"/>
<rect x="208.00" y="293.80" width="21.60" height="5.20" rx="1.60" fill="#000" opacity="1" filter="url(#b3)"/>
</g>
<rect x="180" y="258" width="53" height="45.2" fill="none" stroke="#000" stroke-width="0.9"/>
<g clip-path="url(#c2)">
<rect x="180" y="307" width="53" height="45.6" fill="#fff"/>
<rect x="180" y="307" width="53" height="14.9" fill="#a8a8a8"/>
<rect x="180" y="321.9" width="53" height="2.5" fill="#f0f0f0"/>
<rect x="180" y="324.4" width="53" height="13.8" fill="#e0e0e0"/>
<rect x="180" y="338.2" width="53" height="14.4" fill="#f2f2f2"/>
<ellipse cx="193" cy="311.0" rx="13" ry="2.8" fill="#666" opacity="0.85" filter="url(#b2)"/>
<ellipse cx="220" cy="311.5" rx="12" ry="2.8" fill="#6d6d6d" opacity="0.8" filter="url(#b2)"/>
<rect x="182.10" y="325.80" width="20.40" height="11.20" rx="1.60" fill="#a8a8a8" opacity="0.95" filter="url(#b1)"/>
<rect x="210.50" y="325.80" width="20.40" height="11.20" rx="1.60" fill="#a8a8a8" opacity="0.95" filter="url(#b1)"/>
<rect x="182.10" y="330.60" width="20.40" height="2.40" rx="1.20" fill="#555" opacity="0.95" filter="url(#b1)"/>
<rect x="210.50" y="330.70" width="20.40" height="2.60" rx="1.30" fill="#505050" opacity="0.95" filter="url(#b1)"/>
<rect x="181.90" y="343.70" width="21.20" height="3.80" rx="1.60" fill="#000" opacity="1" filter="url(#b3)" transform="rotate(2 192.5 345.6)"/>
<rect x="208.70" y="345.20" width="21.60" height="3.60" rx="1.60" fill="#000" opacity="1" filter="url(#b3)" transform="rotate(5 219.5 347.0)"/>
</g>
<rect x="180" y="307" width="53" height="45.6" fill="none" stroke="#000" stroke-width="0.9"/>
<g clip-path="url(#c3)">
<rect x="240.4" y="258" width="52.4" height="51.8" fill="#fff"/>
<rect x="240.4" y="258" width="52.4" height="14.9" fill="#c0c0c0"/>
<rect x="240.4" y="275.0" width="52.4" height="14.2" fill="#a0a0a0"/>
<rect x="240.4" y="289.2" width="52.4" height="20.6" fill="#f0f0f0"/>
<ellipse cx="252.5" cy="265.0" rx="9.8" ry="1.5" fill="#555" opacity="0.95" filter="url(#b1)"/>
<rect x="268.40" y="262.30" width="21.20" height="4.00" rx="1.60" fill="#000" opacity="1" filter="url(#b3)"/>
<ellipse cx="253" cy="282.6" rx="10" ry="1.2" fill="#8c8c8c" opacity="0.8" filter="url(#b1)"/>
<ellipse cx="277" cy="280.4" rx="9" ry="1.3" fill="#8a8a8a" opacity="0.8" filter="url(#b1)"/>
<ellipse cx="266" cy="286.6" rx="24" ry="1.2" fill="#b8b8b8" opacity="0.7" filter="url(#b1)"/>
<rect x="241.90" y="297.80" width="21.20" height="4.00" rx="1.60" fill="#000" opacity="1" filter="url(#b3)" transform="rotate(-2 252.5 299.8)"/>
<rect x="266.80" y="297.80" width="22.40" height="3.20" rx="1.60" fill="#000" opacity="1" filter="url(#b3)" transform="rotate(-2 278 299.4)"/>
</g>
<rect x="240.4" y="258" width="52.4" height="51.8" fill="none" stroke="#000" stroke-width="0.9"/>
<filter id="fb" x="-10%" y="-30%" width="120%" height="160%"><feGaussianBlur stdDeviation="0.35"/></filter>
<g filter="url(#fb)" fill="none" stroke-linecap="round" stroke-linejoin="round">
<path d="M250 218.8 C262 219.2 274 220.6 278.6 222.6 C280.2 223.6 280.2 225.2 278.4 226.2 C272 228.8 262 230 250 229.6 Z" fill="#fafafa" stroke="#d0d0d0" stroke-width="0.6"/>
<path d="M250 220.4 C260 221 270 222.6 277.2 224.2 C270 225.6 260 226.2 250 226 Z" fill="#8c8c8c" stroke="none"/>
<path d="M250 222.6 C258 223 268 223.8 275 224.2" stroke="#555" stroke-width="0.9"/>
<path d="M203.6 234.6 C202.4 228 206.5 222.4 213 220 C219 217.8 225 217.6 231 218.4 L250 219.6 L250 227.2 L231 228.2 L230.6 235 C228.5 239.4 222 240.6 217 238.6 C212.5 240 206.5 239.4 203.6 234.6 Z" fill="#f4f4f4" stroke="#555" stroke-width="0.7"/>
<path d="M204.6 234 C203.8 228.4 207.6 223.6 213.6 221.4 C219.2 219.4 225 219.4 231 220" stroke="#222" stroke-width="1.8" stroke-dasharray="1.6 0.4"/>
<path d="M207 233.6 C206.6 229.2 209.6 225.6 214.4 223.8 C219.6 222 225 222 231 222.4" stroke="#6a6a6a" stroke-width="1.3" stroke-dasharray="1.1 0.6"/>
<path d="M231 221.2 L250 222.2" stroke="#3a3a3a" stroke-width="3.4" stroke-dasharray="0.7 0.3" stroke-linecap="butt"/>
<path d="M231 224.6 L250 225.0" stroke="#cfcfcf" stroke-width="2.0" stroke-linecap="butt"/>
<path d="M231 227.8 L250 227.2" stroke="#777" stroke-width="0.6"/>
<circle cx="222.8" cy="231.6" r="6.2" fill="#fbfbfb" stroke="#333" stroke-width="1.1"/>
<path d="M228.6 229.4 C229.6 233.4 227.6 237 223.6 237.8" stroke="#111" stroke-width="1.2"/>
<path d="M205 236.4 C207.5 239.6 212.5 240 216.4 238.2" stroke="#222" stroke-width="1.3"/>
<ellipse cx="208.6" cy="233.4" rx="2.3" ry="2" fill="#222" stroke="#111" stroke-width="0.5"/>
<path d="M211.6 227.2 C214 229 215.4 232.4 215 236.8" stroke="#444" stroke-width="1.1"/>
<path d="M209.4 228.6 C211.6 230 212.6 232.6 212.4 235.6" stroke="#777" stroke-width="0.8"/>
</g>
<g stroke="#222" stroke-width="1" stroke-dasharray="1.4 0.7">
<line x1="230.8" y1="215" x2="230.8" y2="234"/>
<line x1="250.0" y1="215" x2="250.0" y2="234"/>
</g>
<rect x="0" y="0" width="520" height="1.05" fill="#000"/>
<rect x="0" y="0" width="1" height="380" fill="#000"/>
<rect x="518.8" y="0" width="1.2" height="380" fill="#000"/>
<rect x="0" y="378.6" width="520" height="1.4" fill="#000"/>
</svg>
</body></html>
